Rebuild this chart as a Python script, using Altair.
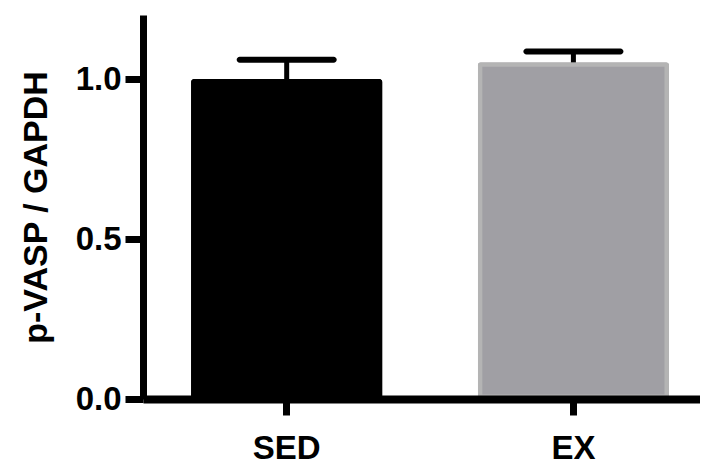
import altair as alt
import pandas as pd

groups = ["SED", "EX"]
means = [1.00, 1.052]
errors = [0.06, 0.034]
fills = ["#000000", "#a09fa4"]
strokes = ["#000000", "#b4b4b4"]

df = pd.DataFrame({
    "group": groups,
    "mean": means,
    "err": errors,
    "fill": fills,
    "stroke": strokes,
})
df["upper"] = df["mean"] + df["err"]

FONT = "Liberation Sans"

x_enc = alt.X(
    "group:N",
    sort=groups,
    scale=alt.Scale(paddingInner=0.3333, paddingOuter=0.138, align=0.608),
    axis=alt.Axis(
        title=None, labelAngle=0, labelFont=FONT, labelFontSize=33,
        labelFontWeight="bold", labelColor="black", labelPadding=17,
        domainColor="black", domainWidth=8, tickColor="black",
        tickWidth=7, tickSize=16, zindex=1,
    ),
)

y_scale = alt.Scale(domain=[0, 1.2], nice=False, zero=True)
y_axis = alt.Axis(
    title="p-VASP / GAPDH", values=[0, 0.5, 1.0], format=".1f",
    labelFont=FONT, labelFontSize=33, labelFontWeight="bold",
    labelColor="black", labelPadding=4,
    titleFont=FONT, titleFontSize=34, titleFontWeight="bold",
    titleColor="black", titlePadding=22,
    domainColor="black", domainWidth=7, tickColor="black",
    tickWidth=7, tickSize=18, grid=False, zindex=1,
)

base = alt.Chart(df)

bars = base.mark_bar(strokeWidth=9, cornerRadius=3, strokeJoin="round").encode(
    x=x_enc,
    y=alt.Y("mean:Q", scale=y_scale, axis=y_axis),
    fill=alt.Fill("fill:N", scale=None),
    stroke=alt.Stroke("stroke:N", scale=None),
)

stems = base.mark_rule(color="black", strokeWidth=5).encode(
    x=alt.X("group:N", sort=groups),
    y=alt.Y("mean:Q", scale=y_scale),
    y2="upper:Q",
)

caps = base.mark_tick(color="black", size=100, thickness=6, cornerRadius=3, opacity=1).encode(
    x=alt.X("group:N", sort=groups),
    y=alt.Y("upper:Q", scale=y_scale),
)

chart = (
    alt.layer(bars, stems, caps)
    .properties(
        width=557, height=384,
        autosize=alt.AutoSizeParams(type="none"),
        padding={"left": 135, "top": 7, "right": 0, "bottom": 67},
        view=alt.ViewBackground(stroke=None, strokeWidth=0),
    )
    .configure_view(stroke=None, strokeWidth=0)
    .configure(background="white")
)

chart.save("out.html", embed_options={"renderer": "svg", "actions": False})
